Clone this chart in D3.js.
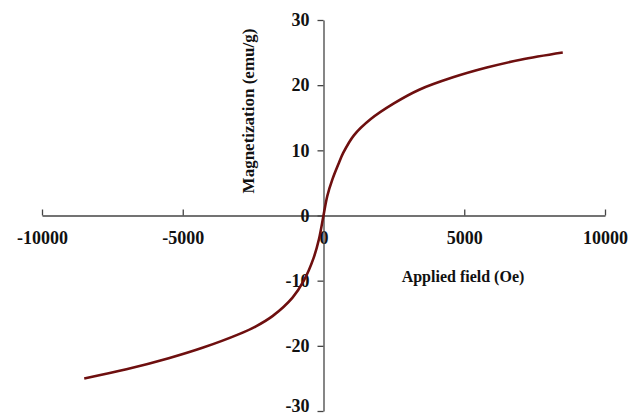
<!DOCTYPE html>
<html><head><meta charset="utf-8">
<script src="https://cdn.jsdelivr.net/npm/d3@7"></script>
<style>html,body{margin:0;padding:0;background:#fff;}</style>
</head><body>
<svg id="chart" width="641" height="416"></svg>
<script>
const fieldValues = [-8500,-7000,-5500,-4300,-3000,-2400,-1800,-1100,-700,-350,-160,0,135,313,550,700,1080,1680,2500,3400,4600,5800,7000,8500];
const magnetization = [-25.0,-23.6,-21.9,-20.3,-18.2,-17.0,-15.4,-12.6,-10.0,-6.5,-3.6,0,3.0,5.5,8.1,9.6,12.3,14.8,17.2,19.3,21.2,22.7,23.9,25.0];
const xTicks = [-10000,-5000,0,5000,10000];
const yTicks = [-30,-20,-10,0,10,20,30];
const xLabel = "Applied field (Oe)";
const yLabel = "Magnetization (emu/g)";

const svg = d3.select("#chart");
const font = "'Liberation Serif','Times New Roman',serif";
const x = d3.scaleLinear().domain([-10000,10000]).range([42,605]);
const y = d3.scaleLinear().domain([-30,30]).range([411,20]);
const axisColor = "#444";
const fmt = d => String(d);

// x axis at y=0, ticks upward
const xg = svg.append("g").attr("transform", `translate(0,${y(0)})`)
  .call(d3.axisTop(x).tickValues(xTicks).tickSize(6).tickSizeOuter(0).tickFormat(fmt));
xg.select(".domain").attr("stroke", axisColor).attr("stroke-width", 1.3);
xg.selectAll(".tick line").attr("stroke", axisColor).attr("stroke-width", 1.3);
xg.selectAll(".tick text").attr("y", 28).attr("dy", 0)
  .attr("font-family", font).attr("font-weight", "bold").attr("font-size", 18).attr("fill", "#111");

// y axis at x=0, ticks leftward
const yg = svg.append("g").attr("transform", `translate(${x(0)},0)`)
  .call(d3.axisLeft(y).tickValues(yTicks).tickSize(6).tickSizeOuter(0).tickFormat(fmt));
yg.select(".domain").attr("stroke", axisColor).attr("stroke-width", 1.3);
yg.selectAll(".tick line").attr("stroke", axisColor).attr("stroke-width", 1.3);
yg.selectAll(".tick text").attr("x", -14)
  .attr("font-family", font).attr("font-weight", "bold").attr("font-size", 18).attr("fill", "#111")
  .attr("dy", d => d === -30 ? "0.05em" : "0.32em");

// curve
const pts = fieldValues.map((f,i)=>[f, magnetization[i]]);
svg.append("path").datum(pts)
  .attr("fill","none").attr("stroke","#6e0f0f").attr("stroke-width",2.6)
  .attr("d", d3.line().x(d=>x(d[0])).y(d=>y(d[1])).curve(d3.curveCatmullRom.alpha(0.5)));

// axis labels
svg.append("text").attr("x", 463).attr("y", 282).attr("text-anchor","middle")
  .attr("font-family", font).attr("font-weight","bold").attr("font-size",16).attr("fill","#111")
  .text(xLabel);
svg.append("text").attr("transform","translate(254,111) rotate(-90)").attr("text-anchor","middle")
  .attr("font-family", font).attr("font-weight","bold").attr("font-size",17).attr("fill","#111")
  .text(yLabel);
</script>
</body></html>
